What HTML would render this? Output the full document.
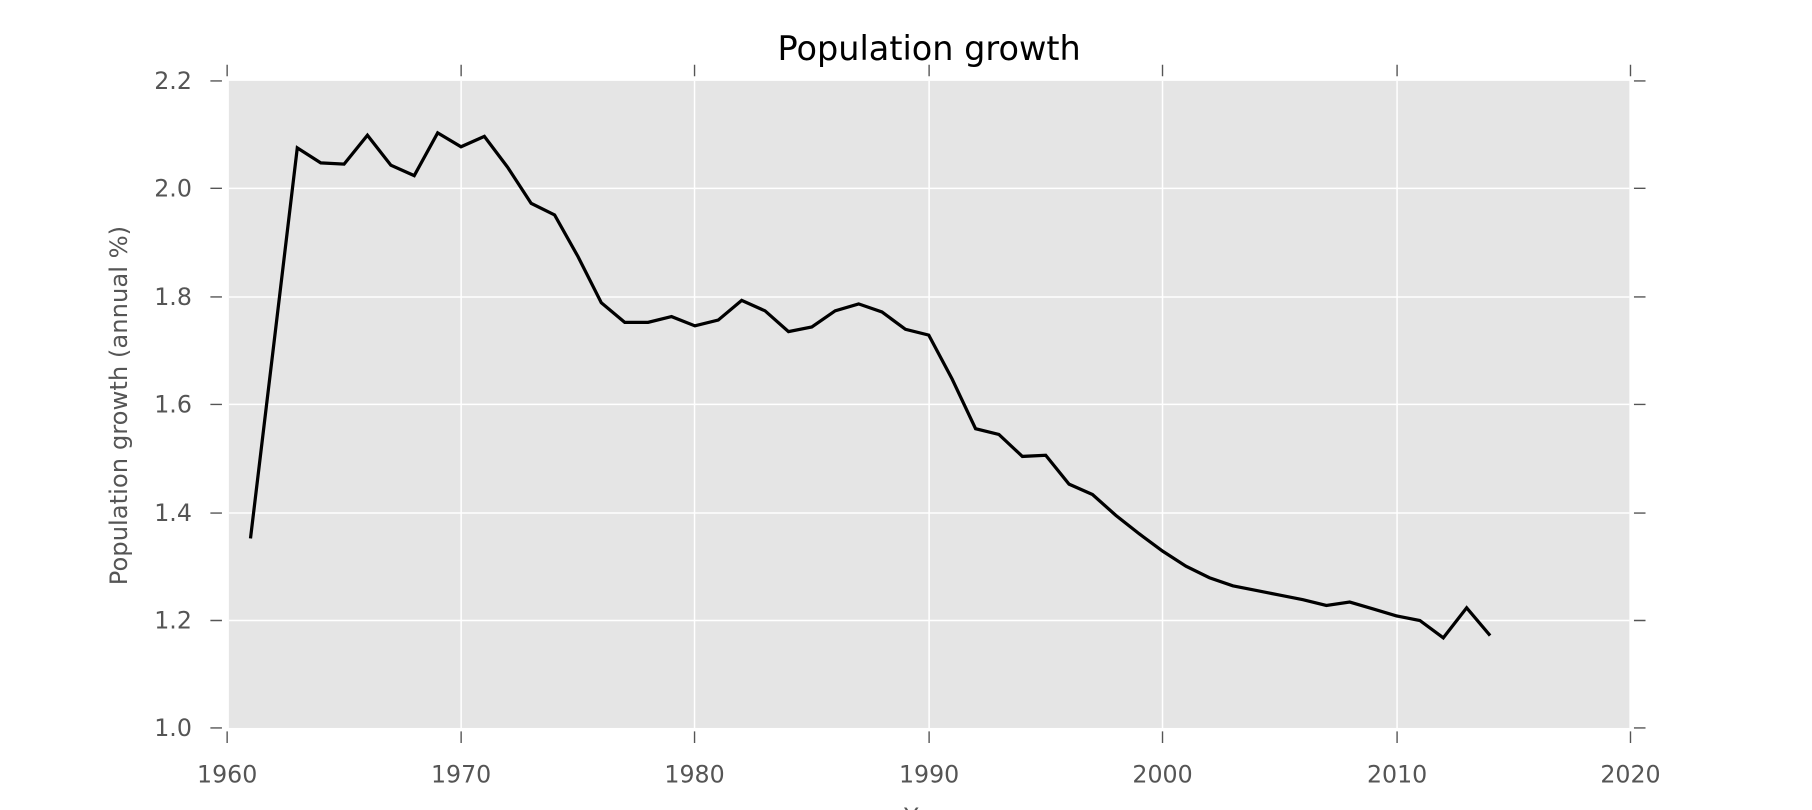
<!DOCTYPE html>
<html><head><meta charset="utf-8"><style>html,body{margin:0;padding:0;background:#fff;}svg{display:block}</style></head>
<body>
<svg width="1812" height="810" viewBox="0 0 1568 701" xmlns="http://www.w3.org/2000/svg" font-family="'DejaVu Sans','Liberation Sans',sans-serif">
<rect x="198" y="70" width="1212" height="560" fill="#e5e5e5"/>
<g stroke="#fff" stroke-width="1.3">
<line x1="399" y1="70" x2="399" y2="630"/><line x1="601" y1="70" x2="601" y2="630"/><line x1="804" y1="70" x2="804" y2="630"/><line x1="1006" y1="70" x2="1006" y2="630"/><line x1="1209" y1="70" x2="1209" y2="630"/>
<line x1="198" y1="163" x2="1410" y2="163"/><line x1="198" y1="257" x2="1410" y2="257"/><line x1="198" y1="350" x2="1410" y2="350"/><line x1="198" y1="444" x2="1410" y2="444"/><line x1="198" y1="537" x2="1410" y2="537"/>
</g>
<g stroke="#555" stroke-width="1.2">
<path d="M196.5 56v10M399 56v10M601 56v10M804 56v10M1006 56v10M1209 56v10M1411 56v10"/>
<path d="M196.5 633v10M399 633v10M601 633v10M804 633v10M1006 633v10M1209 633v10M1411 633v10"/>
<path d="M182 70h10M182 163h10M182 257h10M182 350h10M182 444h10M182 537h10M182 630h10"/>
<path d="M1414 70h10M1414 163h10M1414 257h10M1414 350h10M1414 444h10M1414 537h10M1414 630h10"/>
</g>
<polyline fill="none" stroke="#000" stroke-width="2.8" stroke-linejoin="miter" points="216.7,466 237,297 257.2,128 277.5,141 297.7,142 317.9,117 338.2,143 358.4,152 378.7,115 398.9,127 419.1,118 439.4,145 459.6,176 479.9,186 500.1,222 520.3,262 540.6,279 560.8,279 581.1,274 601.3,282 621.5,277 641.8,260 662,269 682.3,287 702.5,283 722.7,269 743,263 763.2,270 783.5,285 803.7,290 823.9,328 844.2,371 864.4,376 884.7,395 904.9,394 925.1,419 945.4,428 965.6,446 985.9,462 1006.1,477 1026.3,490 1046.6,500 1066.8,507 1087.1,511 1107.3,515 1127.5,519 1147.8,524 1168,521 1188.3,527 1208.5,533 1228.7,537 1249,552 1269.2,526 1289.5,550"/>
<g fill="#555" font-size="20.5" text-anchor="middle">
<text x="196.5" y="677">1960</text><text x="399" y="677">1970</text><text x="601" y="677">1980</text><text x="804" y="677">1990</text><text x="1006" y="677">2000</text><text x="1209" y="677">2010</text><text x="1411" y="677">2020</text>
</g>
<g fill="#555" font-size="20.5" text-anchor="end">
<text x="166" y="77">2.2</text><text x="166" y="170">2.0</text><text x="166" y="264">1.8</text><text x="166" y="357">1.6</text><text x="166" y="451">1.4</text><text x="166" y="544">1.2</text><text x="166" y="637">1.0</text>
</g>
<text x="804" y="714" fill="#555" font-size="20.5" text-anchor="middle">Year</text>
<text transform="translate(110,351) rotate(-90)" fill="#555" font-size="21" text-anchor="middle">Population growth (annual %)</text>
<text x="804" y="52" fill="#000" font-size="29" text-anchor="middle">Population growth</text>
</svg>
</body></html>
